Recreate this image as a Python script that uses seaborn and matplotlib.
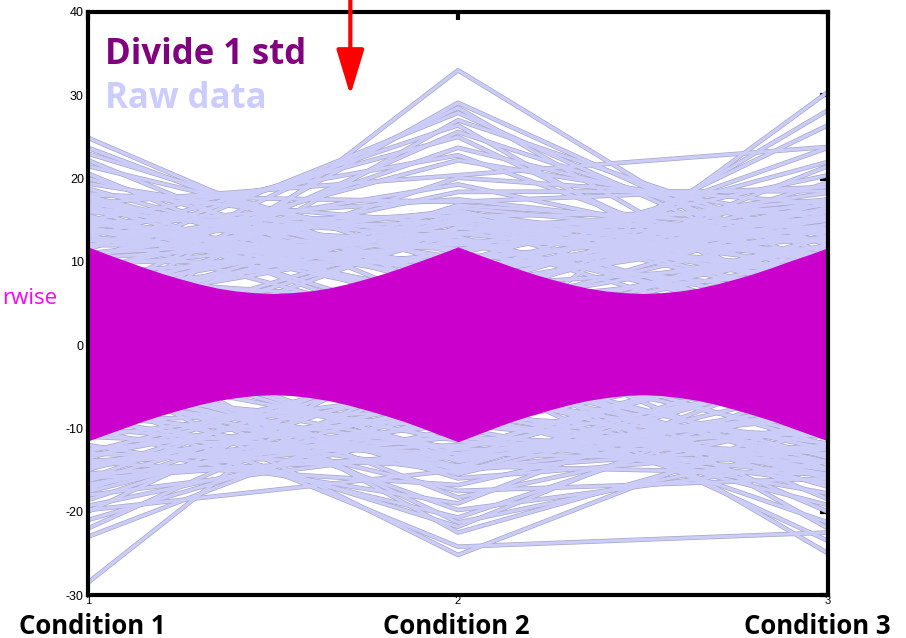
import numpy as np
import pandas as pd
import matplotlib.pyplot as plt
import seaborn as sns

# raw data: one row per profile, value at each of the three conditions
cond1 = [24.9, 23.7, 23.0, 22.2, 21.5, 20.6, 20.0, 19.4, 18.8, 18.2, 17.6, 17.0, 16.5, 16.0,
         15.4, 14.8, 14.2, 13.6, 13.0, 12.5, 18.0,
         17.5, 16.8, 16.2, 15.6, 15.0, 14.4, 13.8, 13.2, 12.6, 17.9, 16.4, 15.1, 14.0,
         3.5, 6.5, 0.5, 8.5, 4.5, -2.0, 10.5,
         -1.0, 4.0, 7.5, 10.0, 2.0, 11.5, 6.0, 13.0, 8.5, 15.0, 10.5, 17.0, 5.5, 12.0, 9.0,
         14.5, 3.0, 11.0, 7.0, 13.5, 1.0, 9.5, 5.0,
         6.0, 3.0, 8.0, 0.0, 10.0, 4.0, 7.0, 2.0, 12.0, -3.0, 5.0, 9.0, 11.0, 1.0, 6.5, 8.0, 4.5,
         -28.5, -23.0, -22.0, -21.0, -20.0, -19.3, -18.6, -18.0, -17.3, -16.7, -16.0, -15.4,
         -14.8, -14.2, -13.6, -13.0, -12.5, -19.8,
         -17.0, -16.3, -15.7, -15.0, -14.5, -13.9, -13.3, -12.8, -17.6, -16.0, -14.2,
         -3.5, -6.0, -0.5, -8.5, -4.5, 2.0, -10.0,
         -3.0, -6.0, 2.0, -8.0, 0.0, -10.0, -4.0, -12.0, -1.0, -7.0, -14.0, -2.5, -9.0, -5.0,
         1.0, -11.0, -6.5,
         -5.0, -2.0, -8.0, 0.0, -4.0, -9.0, 3.0, -6.0, -1.0, -10.0, -3.0, -7.0, 1.5, -11.0, -4.5]
cond2 = [5.8, 7.0, 9.5, 4.0, 11.0, 2.5, 8.0, 12.5, 6.5, 14.5, 3.5, 10.5, 0.5, 13.0,
         7.5, 15.5, 5.0, 11.5, 9.0, 16.0, 17.2,
         9.0, 4.5, 11.5, 2.0, 8.5, 12.5, 6.0, 1.5, 10.0, 7.0, 13.5, 5.5, 9.5,
         15.8, 14.6, 13.4, 12.2, 15.2, 14.2, 13.0,
         33.0, 29.1, 28.5, 27.9, 27.0, 26.4, 25.6, 25.0, 23.7, 22.8, 22.2, 20.4, 20.1, 19.3, 18.4,
         17.5, 16.8, 16.2, 15.5, 14.8, 14.0, 13.3, 12.6,
         -2.0, 2.0, 5.0, 8.0, 10.0, 4.0, 11.0, 6.5, 12.0, 9.0, 14.0, 3.0, 13.5, 7.0, 15.0, 0.5, 16.5,
         6.5, -6.0, -2.0, -8.0, 1.0, -10.0, -4.0, -12.5, -3.0, -9.0, 0.0, -13.5,
         -6.5, -11.0, -1.5, -14.5, -8.5, -15.0,
         -8.0, -3.5, -11.0, -1.5, -9.5, -12.0, -5.0, -2.0, -6.5, -13.0, -7.5,
         -15.5, -14.8, -13.2, -12.4, -15.0, -14.0, -13.6,
         -25.2, -24.2, -22.5, -21.8, -21.3, -20.7, -19.8, -19.0, -18.3, -17.5, -16.8, -16.0, -15.3,
         -14.5, -13.8, -13.0, -12.4,
         1.0, -3.0, 3.0, -6.0, -1.0, -8.0, 0.0, -10.0, -4.5, 2.5, -11.5, -2.5, -9.0, -5.5, -12.5]
cond3 = [4.0, 10.0, -2.0, 14.0, 6.0, 12.0, 17.0, 3.0, 15.5, 8.0, 11.0, 14.0, 7.0, 2.0,
         16.5, 5.0, 9.0, 15.0, 13.0, 10.0, 19.0,
         15.0, 12.0, 16.0, 10.5, 14.5, 11.5, 16.5, 13.0, 15.5, 13.8, 8.5, 17.2, 12.8,
         5.5, 2.0, 9.0, 4.5, 10.5, 7.5, 0.0,
         6.0, 9.0, 3.0, 8.0, 12.0, 1.0, 11.0, 4.0, 13.0, 7.0, 15.0, 23.8, 17.0, 10.0, 18.5,
         12.5, 14.0, 6.5, 16.0, 9.5, 13.5, 17.5, 11.0,
         30.4, 28.2, 26.4, 23.7, 22.0, 21.5, 20.4, 19.5, 18.3, 17.5, 16.8, 16.0, 15.2, 14.5, 13.5,
         13.0, 12.3,
         -3.0, 2.0, -9.0, 4.0, -12.0, -1.0, -14.0, 0.0, -8.0, -15.0, -5.0, -10.0,
         2.0, -13.0, -6.0, -3.0, -11.0, -12.0,
         -15.5, -12.5, -16.5, -11.0, -14.0, -10.5, -16.0, -13.5, -11.8, -8.0, -15.0,
         -5.0, -1.5, -8.5, -4.0, -10.0, -7.0, 0.5,
         -8.0, -22.5, -10.0, -4.0, -12.0, -6.0, -14.0, -2.0, -9.0, -16.0, -7.0, -12.5, -3.0,
         -15.5, -8.0, -14.0, -1.0,
         -25.0, -23.5, -22.0, -21.3, -20.0, -19.2, -18.5, -17.8, -17.0, -16.2, -15.5, -14.8,
         -14.0, -13.2, -12.5]

# +/- 1 std envelope read along the axis (every 0.05 condition units)
band_x = [1.0 + 0.05 * i for i in range(41)]
band_upper = [11.8, 10.95, 10.15, 9.35, 8.6, 7.95, 7.35, 6.85, 6.5, 6.3, 6.2,
              6.3, 6.5, 6.85, 7.35, 7.95, 8.6, 9.35, 10.15, 10.95, 11.8,
              10.95, 10.15, 9.35, 8.6, 7.95, 7.35, 6.85, 6.5, 6.3, 6.2,
              6.3, 6.5, 6.85, 7.35, 7.95, 8.6, 9.35, 10.15, 10.9, 11.7]
band_lower = [-11.5, -10.7, -9.9, -9.1, -8.4, -7.75, -7.15, -6.65, -6.3, -6.05, -5.95,
              -6.05, -6.3, -6.65, -7.15, -7.75, -8.4, -9.1, -9.9, -10.75, -11.6,
              -10.75, -9.9, -9.1, -8.4, -7.75, -7.15, -6.65, -6.3, -6.05, -5.95,
              -6.05, -6.3, -6.65, -7.15, -7.75, -8.4, -9.1, -9.9, -10.7, -11.5]

conditions = ['Condition 1', 'Condition 2', 'Condition 3']
cond_pos = [1, 2, 3]
yticks = [-30, -20, -10, 0, 10, 20, 30, 40]

wide = pd.DataFrame({1: cond1, 2: cond2, 3: cond3})
wide['line'] = range(len(wide))
df = wide.melt(id_vars='line', var_name='pos', value_name='value')
df['pos'] = df['pos'].astype(float)

sns.set_style('white')
fig = plt.figure(figsize=(9.06, 6.38), dpi=100)
ax = fig.add_axes([88 / 906, 43 / 638, 740 / 906, 583 / 638])

# two passes so the grey rims only show around gaps between lines
sns.lineplot(data=df, x='pos', y='value', units='line', estimator=None, sort=False,
             color='#a6a6c4', lw=3.3, legend=False, ax=ax, zorder=1)
sns.lineplot(data=df, x='pos', y='value', units='line', estimator=None, sort=False,
             color='#ccccf8', lw=2.3, legend=False, ax=ax, zorder=2)
ax.fill_between(band_x, band_lower, band_upper, color='#cc00cc', lw=0, zorder=3)

ax.set_xlim(1, 3)
ax.set_ylim(-30, 40)
ax.set_xticks(cond_pos)
ax.set_xticklabels([str(p) for p in cond_pos], fontsize=8, family='Liberation Sans')
ax.set_yticks(yticks)
ax.set_yticklabels([str(t) for t in yticks], fontsize=9, family='Liberation Sans')
ax.set_xlabel('')
ax.set_ylabel('')
ax.tick_params(direction='in', top=True, right=True, length=6, width=3, pad=3,
               colors='black', labelcolor='black')
ax.tick_params(axis='x', pad=1)
for s in ax.spines.values():
    s.set_linewidth(3)
    s.set_color('black')
    s.set_zorder(5)

# condition names under the tick numbers
offsets = [4, -2, -11]
for p, name, off in zip(cond_pos, conditions, offsets):
    ax.annotate(name, xy=(p, 0), xycoords=('data', 'axes fraction'),
                xytext=(off, -31), textcoords='offset pixels', ha='center', va='center',
                fontsize=18.5, fontweight='bold', family='Open Sans', color='black',
                annotation_clip=False)

ax.text(1.046, 34.8, 'Divide 1 std', color='#800080', fontsize=25, fontweight='bold',
        family='Open Sans', va='center', ha='left', zorder=6)
ax.text(1.046, 29.6, 'Raw data', color='#ccccff', fontsize=25, fontweight='bold',
        family='Open Sans', va='center', ha='left', zorder=6)

fig.text(57 / 906, 1 - 298 / 638, 'rwise', color='#ff00ff', fontsize=16,
         family='Open Sans', ha='right', va='center')

ax.annotate('', xy=(1.709, 30.0), xytext=(1.709, 41.6), annotation_clip=False,
            arrowprops=dict(arrowstyle='-|>,head_length=2.8,head_width=0.85',
                            color='#ff0000', lw=3, shrinkA=0, shrinkB=0), zorder=7)

fig.savefig('out.png', dpi=100)
